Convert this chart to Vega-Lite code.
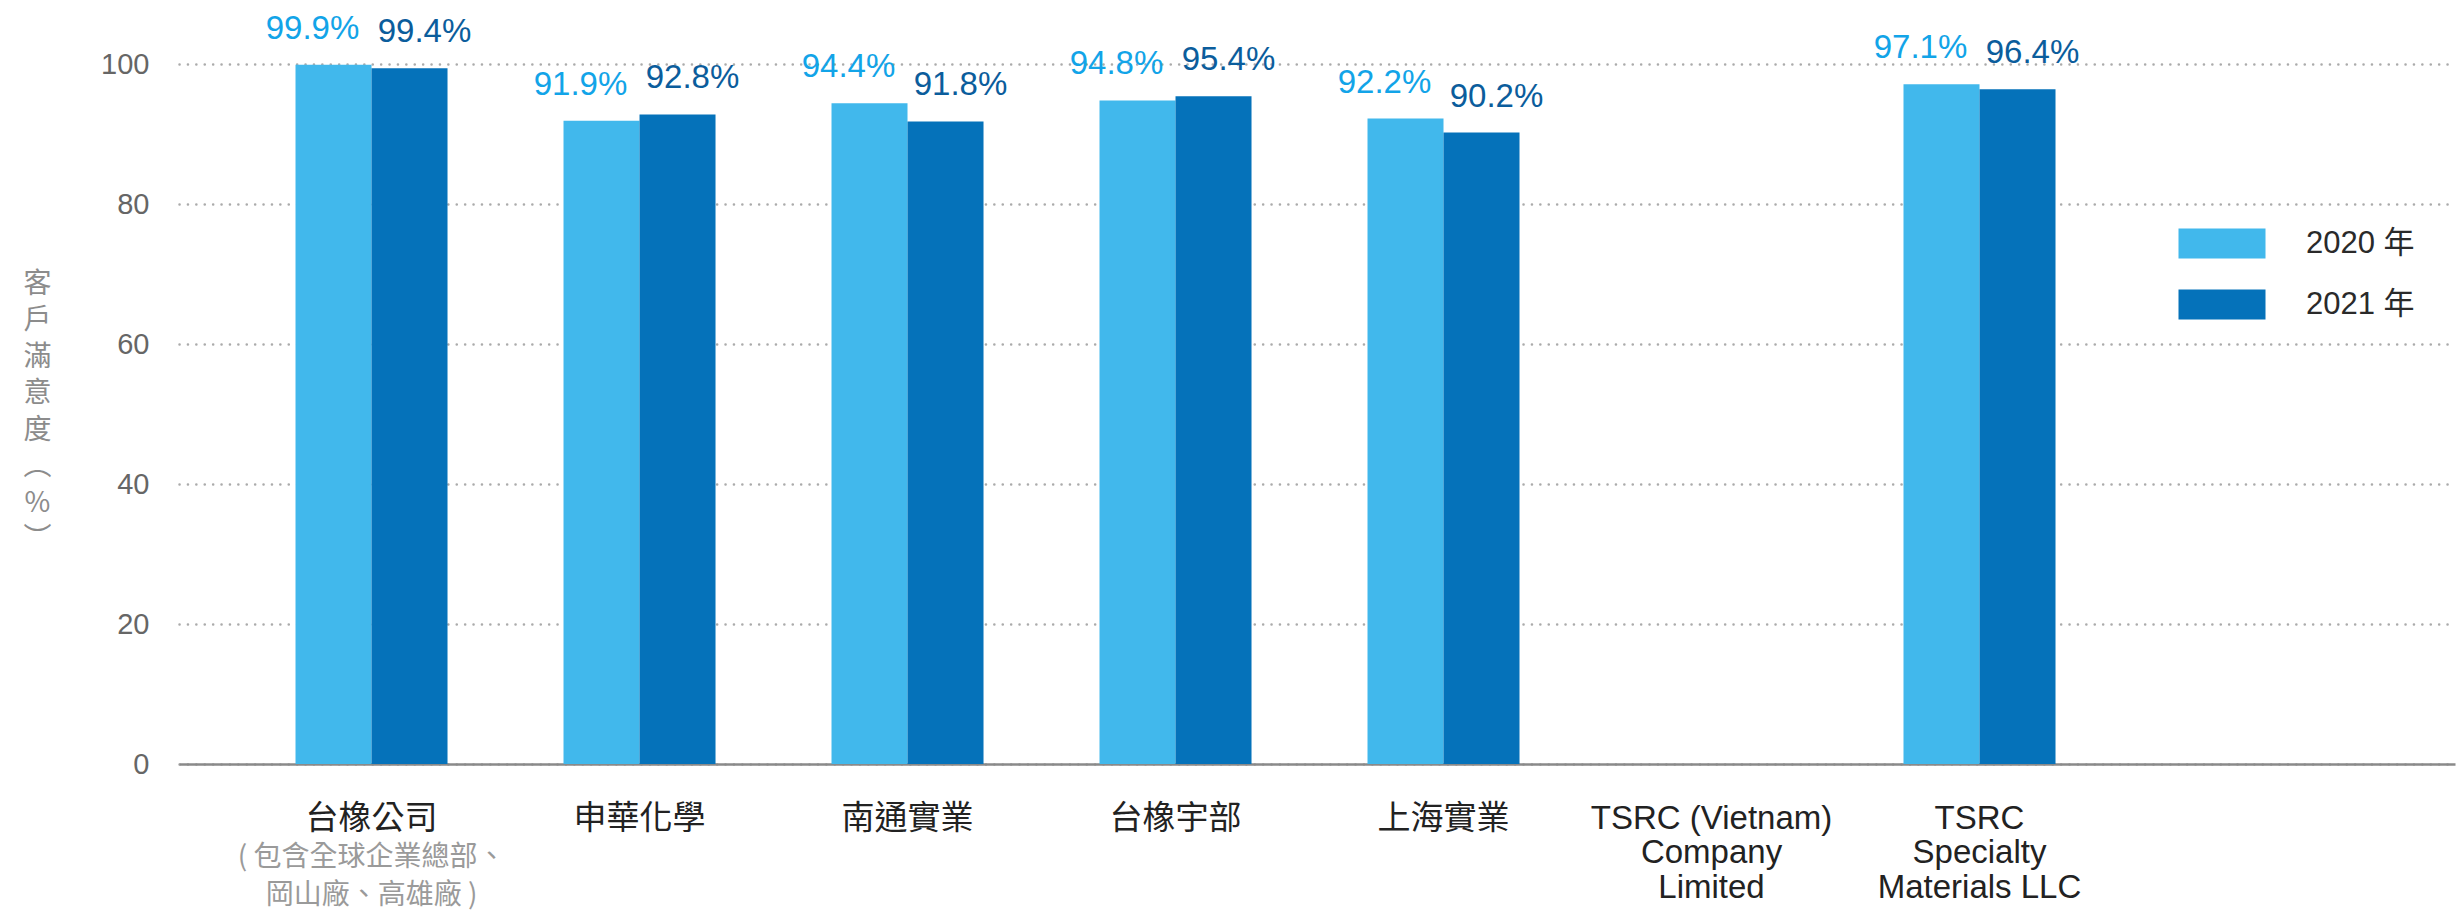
{
  "$schema": "https://vega.github.io/schema/vega-lite/v6.json",
  "width": 2276,
  "height": 700,
  "autosize": {"type": "none"},
  "padding": {"left": 179, "top": 64, "right": 8, "bottom": 152},
  "background": "white",
  "config": {"view": {"stroke": null}, "font": "Liberation Sans, Noto Sans CJK TC"},
  "datasets": {
    "scores": [
      {"company": "台橡公司", "year": "2020", "value": 99.9},
      {"company": "台橡公司", "year": "2021", "value": 99.4},
      {"company": "申華化學", "year": "2020", "value": 91.9},
      {"company": "申華化學", "year": "2021", "value": 92.8},
      {"company": "南通實業", "year": "2020", "value": 94.4},
      {"company": "南通實業", "year": "2021", "value": 91.8},
      {"company": "台橡宇部", "year": "2020", "value": 94.8},
      {"company": "台橡宇部", "year": "2021", "value": 95.4},
      {"company": "上海實業", "year": "2020", "value": 92.2},
      {"company": "上海實業", "year": "2021", "value": 90.2},
      {"company": "TSRC Specialty Materials LLC", "year": "2020", "value": 97.1},
      {"company": "TSRC Specialty Materials LLC", "year": "2021", "value": 96.4}
    ],
    "notes": [
      {"company": "台橡公司", "note": "( 包含全球企業總部、\n岡山廠、高雄廠 )"}
    ]
  },
  "encoding": {
    "x": {
      "field": "company",
      "type": "nominal",
      "sort": null,
      "scale": {
        "domain": ["台橡公司", "申華化學", "南通實業", "台橡宇部", "上海實業", "TSRC (Vietnam) Company Limited", "TSRC Specialty Materials LLC"],
        "paddingInner": 0.4328,
        "paddingOuter": 0.9627,
        "align": 0.2258
      },
      "axis": {
        "title": null,
        "labelExpr": "datum.label == 'TSRC (Vietnam) Company Limited' ? ['TSRC (Vietnam)', 'Company', 'Limited'] : datum.label == 'TSRC Specialty Materials LLC' ? ['TSRC', 'Specialty', 'Materials LLC'] : datum.label",
        "labelFontSize": 33,
        "labelColor": "#222222",
        "labelPadding": 38,
        "labelLineHeight": 34.5,
        "labelAngle": 0,
        "labelBaseline": "top",
        "labelLimit": 600,
        "labelOverlap": false,
        "labelBound": false,
        "ticks": false,
        "domainColor": "#8a8a8a",
        "domainWidth": 2.5,
        "grid": false
      }
    }
  },
  "layer": [
    {
      "data": {"name": "scores"},
      "mark": {"type": "bar"},
      "encoding": {
        "xOffset": {"field": "year", "type": "nominal", "scale": {"domain": ["2020", "2021"], "paddingInner": 0, "paddingOuter": 0}},
        "y": {
          "field": "value",
          "type": "quantitative",
          "scale": {"domain": [0, 100], "nice": false},
          "axis": {
            "values": [0, 20, 40, 60, 80, 100],
            "title": ["客", "戶", "滿", "意", "度", "︵", "%", "︶"],
            "titleAngle": 0,
            "titleX": -142,
            "titleY": 206,
            "titleAlign": "center",
            "titleBaseline": "top",
            "titleFontSize": 28,
            "titleFontWeight": "normal",
            "titleColor": "#8c8c8c",
            "titleLineHeight": 36.5,
            "titleFont": "Noto Sans CJK TC",
            "domain": false,
            "ticks": false,
            "labelFontSize": 29,
            "labelColor": "#666666",
            "labelPadding": 30,
            "gridColor": "#ababab",
            "gridWidth": 2.5,
            "gridDash": [0.1, 8.3],
            "gridCap": "round"
          }
        },
        "color": {
          "field": "year",
          "type": "nominal",
          "scale": {"domain": ["2020", "2021"], "range": ["#41b8ec", "#0572ba"]},
          "legend": {
            "title": null,
            "orient": "none",
            "legendX": 2027.5,
            "legendY": 164,
            "symbolType": "M-2.9,-1H2.9V1H-2.9Z",
            "symbolSize": 900,
            "symbolStrokeWidth": 0,
            "symbolOpacity": 1,
            "labelExpr": "datum.label + ' 年'",
            "labelFontSize": 31,
            "labelColor": "#2a2a2a",
            "labelOffset": 68.5,
            "rowPadding": 29,
            "padding": 0
          }
        }
      }
    },
    {
      "data": {"name": "scores"},
      "transform": [
        {"filter": "datum.year == '2020'"},
        {"calculate": "format(datum.value, '.1f') + '%'", "as": "label"}
      ],
      "mark": {"type": "text", "dx": -21, "dy": -26, "baseline": "alphabetic", "fontSize": 33, "color": "#12a4e8"},
      "encoding": {
        "xOffset": {"field": "year", "type": "nominal"},
        "y": {"field": "value", "type": "quantitative"},
        "text": {"field": "label"}
      }
    },
    {
      "data": {"name": "scores"},
      "transform": [
        {"filter": "datum.year == '2021'"},
        {"calculate": "format(datum.value, '.1f') + '%'", "as": "label"}
      ],
      "mark": {"type": "text", "dx": 15, "dy": -26, "baseline": "alphabetic", "fontSize": 33, "color": "#0b5d9c"},
      "encoding": {
        "xOffset": {"field": "year", "type": "nominal"},
        "y": {"field": "value", "type": "quantitative"},
        "text": {"field": "label"}
      }
    },
    {
      "data": {"name": "notes"},
      "mark": {"type": "text", "baseline": "top", "dy": 80, "lineBreak": "\n", "lineHeight": 38, "fontSize": 28, "color": "#9a9a9a", "font": "Noto Sans CJK TC"},
      "encoding": {
        "y": {"datum": 0, "type": "quantitative"},
        "text": {"field": "note"}
      }
    }
  ]
}
